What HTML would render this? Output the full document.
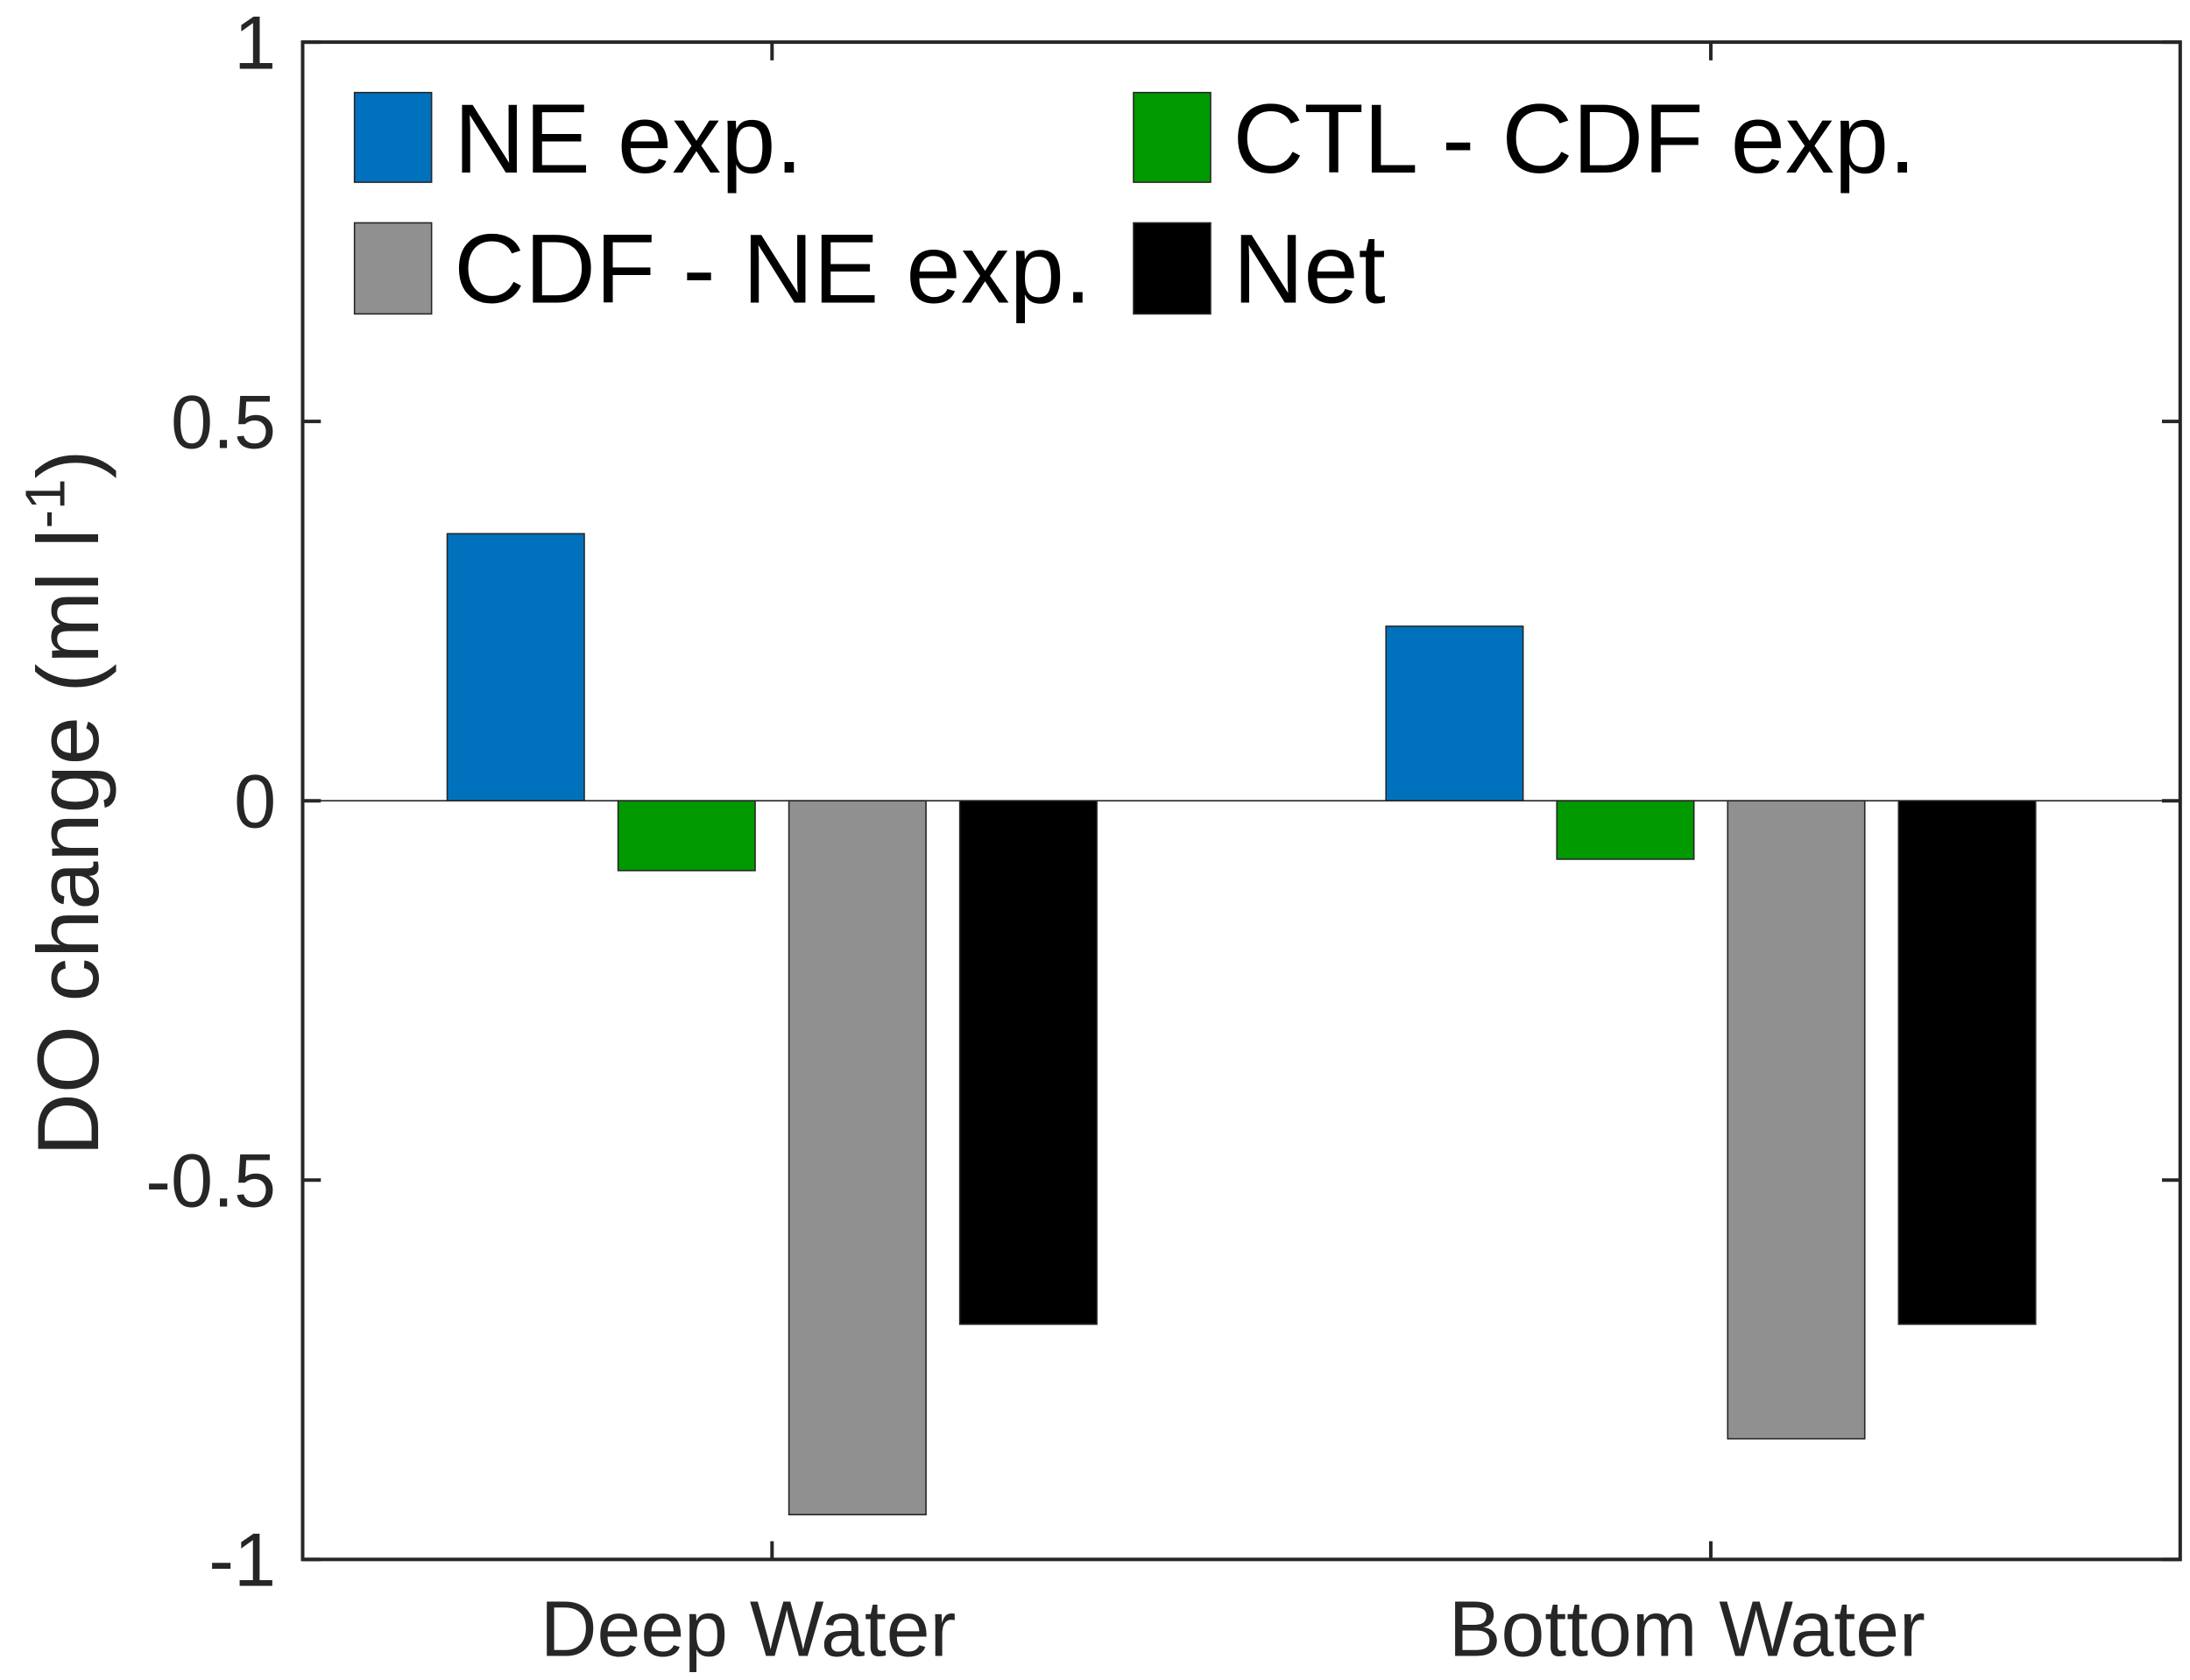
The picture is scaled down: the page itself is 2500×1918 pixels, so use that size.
<!DOCTYPE html>
<html><head><meta charset="utf-8"><style>
html,body{margin:0;padding:0;background:#fff;}
svg{display:block;}
text{font-family:"Liberation Sans",Arial,sans-serif;}
</style></head><body>
<svg id="chart" width="2500" height="1918" viewBox="0 0 1563 1199" xmlns="http://www.w3.org/2000/svg">
<rect x="0" y="0" width="1563" height="1199" fill="#fff"/>
<g id="bars"></g>
<line x1="216" y1="571.5" x2="1556" y2="571.5" stroke="#262626" stroke-width="1"/>
<rect x="216" y="30" width="1340" height="1083" fill="none" stroke="#262626" stroke-width="2.5"/>
<g id="ticks"></g>
<text x="70" y="573" transform="rotate(-90 70 573)" text-anchor="middle" font-size="62" fill="#262626">DO change (ml l<tspan dy="-24" font-size="40">-1</tspan><tspan dy="24">)</tspan></text>
<g>
<rect x="253" y="66" width="55" height="64" fill="#0072BD" stroke="#262626" stroke-width="1"/>
<text x="324" y="123" font-size="70" fill="#000">NE exp.</text>
<rect x="809" y="66" width="55" height="64" fill="#009900" stroke="#262626" stroke-width="1"/>
<text x="880" y="123" font-size="70" fill="#000">CTL - CDF exp.</text>
<rect x="253" y="159" width="55" height="65" fill="#909090" stroke="#262626" stroke-width="1"/>
<text x="324" y="216" font-size="70" fill="#000">CDF - NE exp.</text>
<rect x="809" y="159" width="55" height="65" fill="#000" stroke="#262626" stroke-width="1"/>
<text x="880" y="216" font-size="70" fill="#000">Net</text>
</g>
</svg>
<script>
const categories = ["Deep Water", "Bottom Water"];
const seriesNames = ["NE exp.", "CTL - CDF exp.", "CDF - NE exp.", "Net"];
const neValues = [0.352, 0.23];
const ctlCdfValues = [-0.092, -0.077];
const cdfNeValues = [-0.941, -0.841];
const netValues = [-0.69, -0.69];
const yTickValues = [1, 0.5, 0, -0.5, -1];
const yTickLabels = ["1", "0.5", "0", "-0.5", "-1"];

const NS = "http://www.w3.org/2000/svg";
const L = 216, R = 1556, T = 30, B = 1113;
function xScale(v) { return L + (v - 0.5) / 2 * (R - L); }
function yScale(v) { return T + (1 - v) / 2 * (B - T); }
const series = [neValues, ctlCdfValues, cdfNeValues, netValues];
const colors = ["#0072BD", "#009900", "#909090", "#000000"];
const offsets = [-0.273, -0.091, 0.091, 0.273];
const bw = 0.146;
const barsG = document.getElementById("bars");
series.forEach((vals, s) => {
  vals.forEach((v, i) => {
    const r = document.createElementNS(NS, "rect");
    const x0 = xScale(i + 1 + offsets[s] - bw / 2), x1 = xScale(i + 1 + offsets[s] + bw / 2);
    const y0 = yScale(Math.max(v, 0)), y1 = yScale(Math.min(v, 0));
    r.setAttribute("x", x0); r.setAttribute("y", y0);
    r.setAttribute("width", x1 - x0); r.setAttribute("height", y1 - y0);
    r.setAttribute("fill", colors[s]); r.setAttribute("stroke", "#262626"); r.setAttribute("stroke-width", "1");
    
    
    barsG.appendChild(r);
  });
});
const ticksG = document.getElementById("ticks");
yTickValues.forEach((v, i) => {
  const y = yScale(v);
  [[L, L + 13], [R - 13, R]].forEach(p => {
    const ln = document.createElementNS(NS, "line");
    ln.setAttribute("x1", p[0]); ln.setAttribute("x2", p[1]); ln.setAttribute("y1", y); ln.setAttribute("y2", y);
    ln.setAttribute("stroke", "#262626"); ln.setAttribute("stroke-width", "2.5");
    
    
    ticksG.appendChild(ln);
  });
  const t = document.createElementNS(NS, "text");
  t.setAttribute("x", 197); t.setAttribute("y", y + 19);
  t.setAttribute("text-anchor", "end"); t.setAttribute("font-size", "54"); t.setAttribute("fill", "#262626");
  t.textContent = yTickLabels[i];
  
  
  ticksG.appendChild(t);
});
categories.forEach((c, i) => {
  const x = xScale(i + 1);
  [[T, T + 13], [B - 13, B]].forEach(p => {
    const ln = document.createElementNS(NS, "line");
    ln.setAttribute("x1", x); ln.setAttribute("x2", x); ln.setAttribute("y1", p[0]); ln.setAttribute("y2", p[1]);
    ln.setAttribute("stroke", "#262626"); ln.setAttribute("stroke-width", "2.5");
    
    
    ticksG.appendChild(ln);
  });
  const t = document.createElementNS(NS, "text");
  t.setAttribute("x", x - 17); t.setAttribute("y", 1182);
  t.setAttribute("text-anchor", "middle"); t.setAttribute("font-size", "56"); t.setAttribute("fill", "#262626");
  t.textContent = c;
  
  
  ticksG.appendChild(t);
});
</script>
</body></html>
